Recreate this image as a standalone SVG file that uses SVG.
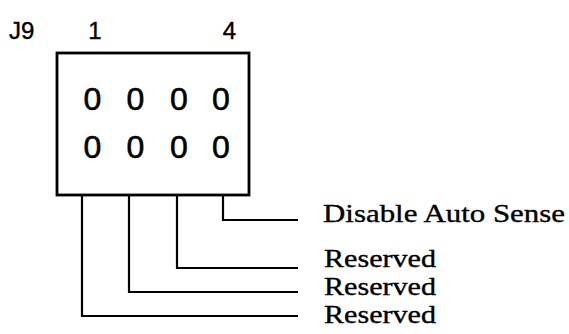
<svg xmlns="http://www.w3.org/2000/svg" width="569" height="334" viewBox="0 0 569 334">
<style>
.hdr{font-family:"Liberation Sans",Arial,sans-serif;font-size:24px;fill:#000;stroke:#000;stroke-width:0.4}
.pin{font-family:"Liberation Sans",Arial,sans-serif;font-size:32px;fill:#000;stroke:#000;stroke-width:0.6;text-anchor:middle}
.lbl{font-family:"Liberation Serif","Times New Roman",serif;font-size:25px;fill:#000;stroke:#000;stroke-width:0.35}
.box{fill:#fff;stroke:#000;stroke-width:2.8}
.wire{fill:none;stroke:#000;stroke-width:2.2}
</style>
<rect width="569" height="334" fill="#fff"/>
<g id="header">
<text class="hdr" x="9" y="39">J9</text>
<text class="hdr" x="95" y="39" text-anchor="middle">1</text>
<text class="hdr" x="229.5" y="39" text-anchor="middle">4</text>
</g>
<g id="connector-j9">
<rect class="box" x="57" y="53" width="192" height="142"/>
<text class="pin" x="92.5" y="110">0</text>
<text class="pin" x="135.5" y="110">0</text>
<text class="pin" x="179" y="110">0</text>
<text class="pin" x="221" y="110">0</text>
<text class="pin" x="92.5" y="158">0</text>
<text class="pin" x="135.5" y="158">0</text>
<text class="pin" x="179" y="158">0</text>
<text class="pin" x="221" y="158">0</text>
</g>
<g id="connectors">
<polyline class="wire" points="223,195 223,220 298,220"/>
<polyline class="wire" points="177,195 177,268 298,268"/>
<polyline class="wire" points="129,195 129,292 298,292"/>
<polyline class="wire" points="82,195 82,316 298,316"/>
</g>
<g id="label-disable">
<text class="lbl" x="323" y="222" textLength="242" lengthAdjust="spacingAndGlyphs">Disable Auto Sense</text>
</g>
<g id="label-reserved-1">
<text class="lbl" x="324" y="267" textLength="112" lengthAdjust="spacingAndGlyphs">Reserved</text>
</g>
<g id="label-reserved-2">
<text class="lbl" x="324" y="295" textLength="112" lengthAdjust="spacingAndGlyphs">Reserved</text>
</g>
<g id="label-reserved-3">
<text class="lbl" x="324" y="323" textLength="112" lengthAdjust="spacingAndGlyphs">Reserved</text>
</g>
</svg>
